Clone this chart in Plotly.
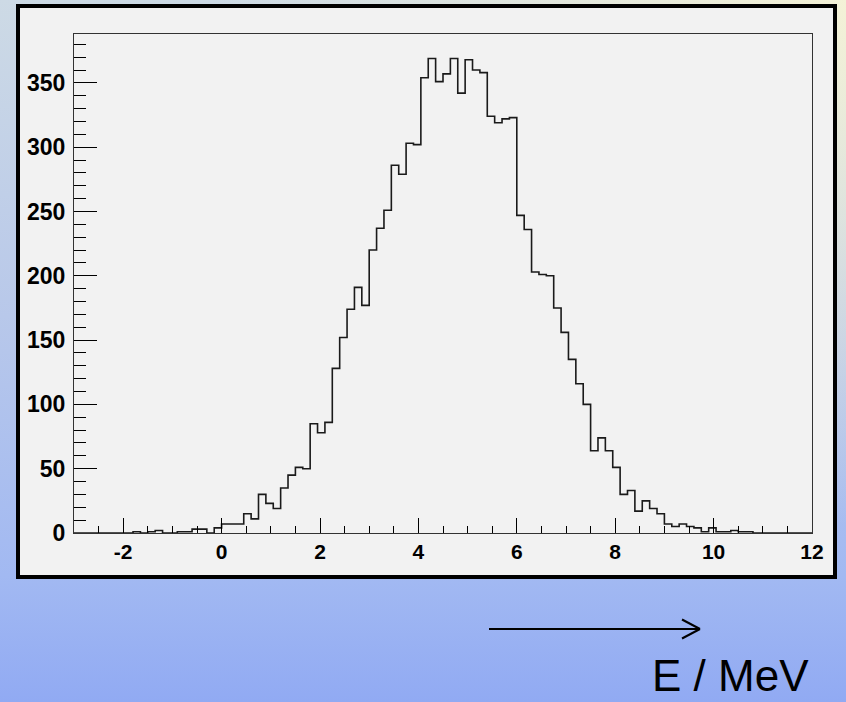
import base64
import plotly.graph_objects as go

# ---- data: 100 bins from -3 to 12 (bin width 0.15) ----
x_min = -3.0
x_max = 12.0
n_bins = 100
counts = [
    0, 0, 0, 0, 0, 0, 0, 0, 1, 0,
    1, 2, 0, 0, 1, 1, 3, 3, 0, 4,
    7, 7, 7, 15, 11, 30, 23, 19, 35, 45,
    51, 50, 85, 78, 86, 128, 152, 174, 191, 177,
    220, 237, 251, 286, 279, 303, 302, 354, 369, 351,
    357, 369, 342, 368, 360, 358, 324, 319, 322, 323,
    247, 236, 203, 201, 200, 175, 156, 135, 116, 100,
    64, 74, 64, 51, 30, 33, 17, 25, 19, 15,
    7, 5, 7, 5, 4, 1, 4, 1, 1, 2,
    1, 1, 0, 0, 0, 0, 0, 0, 0, 0,
]
x_tick_vals = [-2, 0, 2, 4, 6, 8, 10, 12]
x_tick_text = ["-2", "0", "2", "4", "6", "8", "10", "12"]
y_tick_vals = [0, 50, 100, 150, 200, 250, 300, 350]
y_tick_text = ["0", "50", "100", "150", "200", "250", "300", "350"]
axis_label = "E / MeV"

bw = (x_max - x_min) / n_bins
edges = [x_min + i * bw for i in range(n_bins + 1)]
step_y = counts + [counts[-1]]

W, H = 846, 702
L, R, T, B = 74, 34, 34, 169
pw, ph = W - L - R, H - T - B


def px(xp):
    return (xp - L) / pw


def py(yp):
    return (H - B - yp) / ph


fig = go.Figure()
fig.add_trace(go.Scatter(
    x=edges, y=step_y, mode="lines", line_shape="hv",
    line=dict(color="#1a1a1a", width=1.6), cliponaxis=False,
    hoverinfo="skip", showlegend=False,
))

# gradient page background
svg = f'''<svg xmlns="http://www.w3.org/2000/svg" width="{W}" height="{H}" viewBox="0 0 {W} {H}" preserveAspectRatio="none">
<defs>
<linearGradient id="v" x1="0" y1="0" x2="0" y2="1">
<stop offset="0" stop-color="#cddae5"/>
<stop offset="0.45" stop-color="#b8c8ea"/>
<stop offset="0.82" stop-color="#a2b9f2"/>
<stop offset="1" stop-color="#91aaf3"/>
</linearGradient>
<radialGradient id="r" cx="1" cy="0" r="0.75">
<stop offset="0" stop-color="#f6f3d6" stop-opacity="0.95"/>
<stop offset="1" stop-color="#f6f3d6" stop-opacity="0"/>
</radialGradient>
</defs>
<rect width="{W}" height="{H}" fill="url(#v)"/>
<rect width="{W}" height="{H}" fill="url(#r)"/>
</svg>'''
src = "data:image/svg+xml;base64," + base64.b64encode(svg.encode()).decode()

fig.add_layout_image(dict(
    source=src, xref="paper", yref="paper",
    x=px(0), y=py(0), sizex=W / pw, sizey=H / ph,
    xanchor="left", yanchor="top", sizing="stretch", layer="below",
))

shapes = [
    # black-bordered panel
    dict(type="rect", xref="paper", yref="paper",
         x0=px(18), x1=px(835), y0=py(6), y1=py(577),
         fillcolor="#f2f2f2", line=dict(color="black", width=4), layer="below"),
    # arrow
    dict(type="line", xref="paper", yref="paper",
         x0=px(489), x1=px(700), y0=py(629), y1=py(629),
         line=dict(color="black", width=2)),
    dict(type="line", xref="paper", yref="paper",
         x0=px(682), x1=px(700), y0=py(619.5), y1=py(629),
         line=dict(color="black", width=2)),
    dict(type="line", xref="paper", yref="paper",
         x0=px(682), x1=px(700), y0=py(638.5), y1=py(629),
         line=dict(color="black", width=2)),
]

tickfont = dict(family="Liberation Sans", size=23, color="black", weight="bold")

fig.update_layout(
    width=W, height=H,
    margin=dict(l=L, r=R, t=T, b=B, pad=0),
    paper_bgcolor="#b8c8ea",
    plot_bgcolor="rgba(0,0,0,0)",
    shapes=shapes,
    annotations=[dict(
        text=axis_label, xref="paper", yref="paper",
        x=px(730), y=py(675), xanchor="center", yanchor="middle",
        showarrow=False, borderpad=0,
        font=dict(family="Liberation Sans", size=44, color="black"),
    )],
    xaxis=dict(
        range=[x_min, x_max], tickvals=x_tick_vals, ticktext=x_tick_text,
        ticks="inside", ticklen=15, tickwidth=1, tickcolor="black",
        minor=dict(dtick=0.5, tick0=0, ticks="inside", ticklen=7, tickcolor="black", tickwidth=1),
        showline=True, linecolor="#333333", linewidth=1, mirror=True,
        showgrid=False, zeroline=False, tickfont=dict(tickfont, size=21),
        ticklabelstandoff=0,
    ),
    yaxis=dict(
        range=[0, 388], tickvals=y_tick_vals, ticktext=y_tick_text,
        ticks="inside", ticklen=23, tickwidth=1, tickcolor="black",
        minor=dict(dtick=10, tick0=0, ticks="inside", ticklen=12, tickcolor="black", tickwidth=1),
        showline=True, linecolor="#333333", linewidth=1, mirror=True,
        showgrid=False, zeroline=False, tickfont=tickfont,
        ticklabelstandoff=3,
    ),
)

fig.write_html("out.html")
